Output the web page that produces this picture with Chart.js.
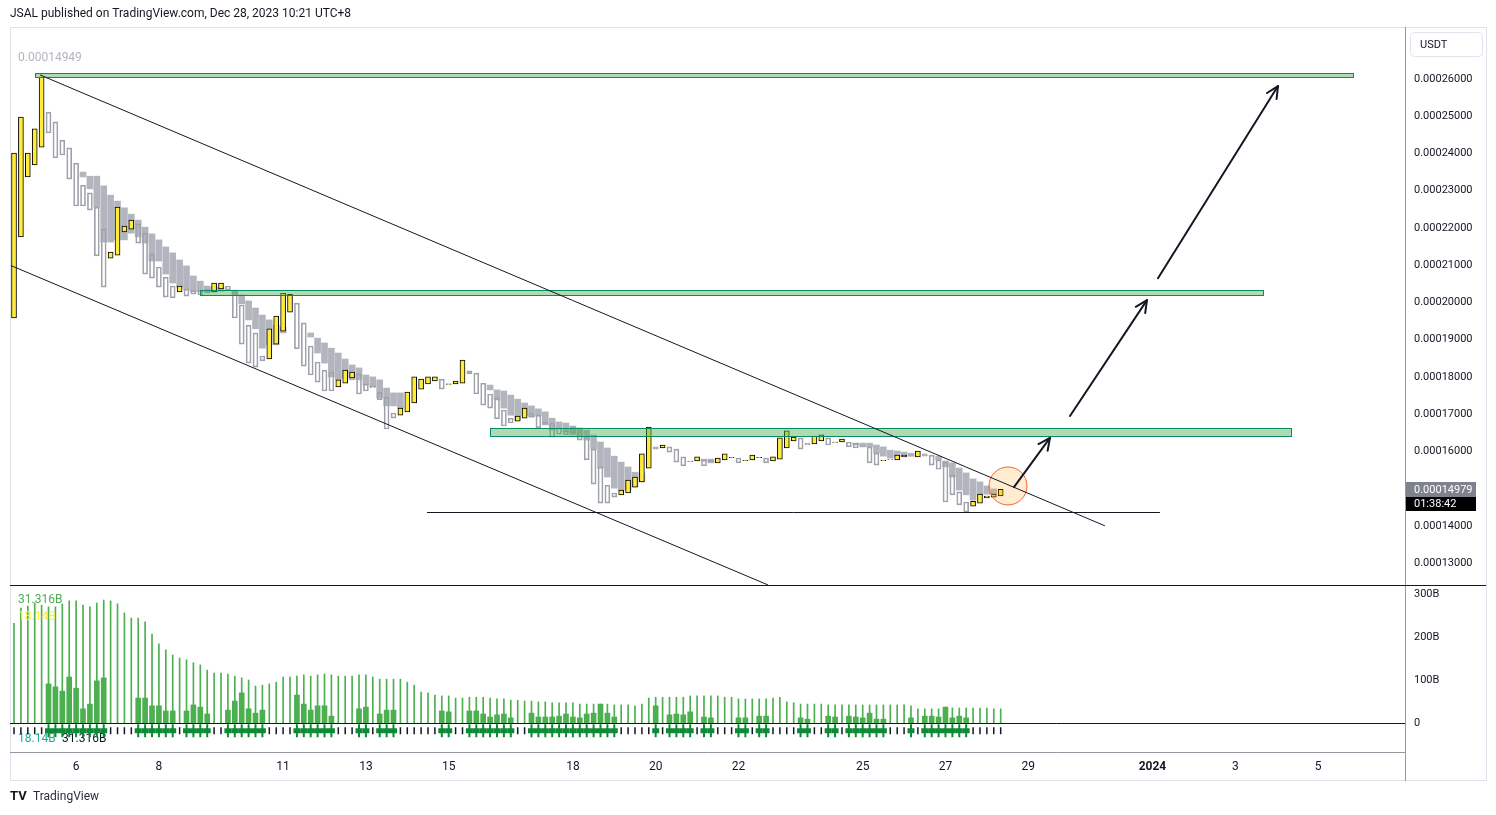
<!DOCTYPE html>
<html>
<head>
<meta charset="utf-8">
<script src="https://cdn.jsdelivr.net/npm/chart.js@4.4.0/dist/chart.umd.min.js"></script>
<style>html,body{margin:0;padding:0;background:#fff;overflow:hidden}canvas{display:block}</style>
</head>
<body>
<canvas id="c" width="1496" height="815"></canvas>
<script>
// ---------- DATA (4h candles, starting Dec 4 12:00) ----------
const N = null;
const START_DAY = 4.5;          // day-of-December of the first candle
const CANDLE_DAYS = 4 / 24;     // 4-hour candles

const candleOpen = [
 19.58e-5,21.76e-5,23.37e-5,23.69e-5,24.17e-5,25.11e-5,24.85e-5,24.36e-5,24.15e-5,23.74e-5,
 23.15e-5,22.94e-5,22.56e-5,21.97e-5,21.19e-5,21.27e-5,21.89e-5,21.97e-5,22.11e-5,21.86e-5,
 21.30e-5,20.95e-5,20.68e-5,20.44e-5,20.28e-5,20.36e-5,20.33e-5,20.33e-5,20.36e-5,20.28e-5,
 20.36e-5,20.44e-5,20.28e-5,19.93e-5,19.39e-5,19.18e-5,18.56e-5,18.48e-5,18.88e-5,19.23e-5,
 19.74e-5,19.98e-5,19.45e-5,18.83e-5,18.40e-5,18.18e-5,18.13e-5,17.73e-5,17.83e-5,17.97e-5,
 18.08e-5,17.81e-5,17.72e-5,17.59e-5,17.46e-5,17.03e-5,16.97e-5,17.06e-5,17.30e-5,17.67e-5,
 17.81e-5,17.89e-5,17.94e-5,17.80e-5,17.81e-5,17.83e-5,18.16e-5,18.10e-5,17.83e-5,17.54e-5,
 17.43e-5,17.11e-5,16.89e-5,16.81e-5,16.89e-5,17.03e-5,16.97e-5,16.79e-5,16.76e-5,16.63e-5,
 16.55e-5,16.65e-5,16.57e-5,16.38e-5,16.06e-5,15.58e-5,15.09e-5,14.88e-5,14.83e-5,14.88e-5,
 15.04e-5,15.18e-5,15.55e-5,16.12e-5,16.09e-5,16.12e-5,16.06e-5,15.85e-5,15.73e-5,15.74e-5,
 15.77e-5,15.77e-5,15.69e-5,15.77e-5,15.83e-5,15.82e-5,15.75e-5,15.77e-5,15.83e-5,15.82e-5,
 15.74e-5,15.79e-5,16.09e-5,16.28e-5,16.36e-5,16.22e-5,16.20e-5,16.28e-5,16.36e-5,16.24e-5,
 16.25e-5,16.25e-5,16.22e-5,16.14e-5,16.12e-5,15.95e-5,15.75e-5,15.78e-5,15.77e-5,15.85e-5,
 15.90e-5,15.85e-5,15.93e-5,15.90e-5,15.77e-5,15.71e-5,15.36e-5,14.91e-5,14.64e-5,14.53e-5,
 14.61e-5,14.75e-5,14.77e-5,14.80e-5];

const candleClose = [
 24.01e-5,24.98e-5,24.01e-5,24.66e-5,26.05e-5,24.55e-5,23.88e-5,23.96e-5,23.31e-5,22.59e-5,
 22.59e-5,22.48e-5,21.25e-5,20.41e-5,21.35e-5,22.56e-5,22.05e-5,22.21e-5,21.59e-5,20.76e-5,
 20.65e-5,20.41e-5,20.14e-5,20.12e-5,20.44e-5,20.17e-5,20.22e-5,20.20e-5,20.25e-5,20.52e-5,
 20.52e-5,20.33e-5,19.58e-5,18.88e-5,18.37e-5,18.26e-5,18.43e-5,19.29e-5,19.63e-5,20.25e-5,
 20.22e-5,18.75e-5,18.29e-5,18.05e-5,17.86e-5,17.62e-5,17.62e-5,17.92e-5,18.18e-5,18.13e-5,
 17.54e-5,17.62e-5,17.73e-5,17.38e-5,16.60e-5,16.89e-5,17.16e-5,17.59e-5,18.00e-5,17.94e-5,
 18.00e-5,18.00e-5,17.67e-5,17.81e-5,17.89e-5,18.45e-5,18.08e-5,17.54e-5,17.24e-5,17.16e-5,
 16.87e-5,16.68e-5,16.76e-5,16.95e-5,17.16e-5,16.92e-5,16.63e-5,16.73e-5,16.38e-5,16.46e-5,
 16.44e-5,16.49e-5,16.30e-5,15.77e-5,15.12e-5,14.61e-5,14.61e-5,14.77e-5,14.96e-5,15.23e-5,
 15.31e-5,15.93e-5,16.65e-5,16.06e-5,16.17e-5,15.98e-5,15.71e-5,15.61e-5,15.74e-5,15.85e-5,
 15.61e-5,15.71e-5,15.82e-5,15.93e-5,15.84e-5,15.69e-5,15.76e-5,15.90e-5,15.84e-5,15.69e-5,
 15.85e-5,16.36e-5,16.55e-5,16.38e-5,16.06e-5,16.17e-5,16.41e-5,16.44e-5,16.17e-5,16.25e-5,
 16.33e-5,16.12e-5,16.09e-5,16.12e-5,15.69e-5,15.63e-5,15.76e-5,15.79e-5,15.90e-5,15.90e-5,
 15.87e-5,16.01e-5,15.87e-5,15.63e-5,15.52e-5,14.64e-5,14.83e-5,14.56e-5,14.37e-5,14.66e-5,
 14.85e-5,14.80e-5,14.85e-5,14.979e-5];

// grey shaded (smoothed) bodies, null where absent
const shadeLow = [
 N,N,N,N,N,N,N,N,N,N,
 23.37e-5,23.05e-5,22.56e-5,21.62e-5,21.62e-5,21.68e-5,21.68e-5,21.86e-5,21.76e-5,21.59e-5,
 21.11e-5,21.11e-5,20.76e-5,20.52e-5,20.41e-5,20.33e-5,20.28e-5,20.28e-5,20.28e-5,20.28e-5,
 20.30e-5,N,20.20e-5,19.96e-5,19.53e-5,19.29e-5,18.77e-5,18.86e-5,18.86e-5,19.18e-5,
 N,N,N,19.07e-5,18.64e-5,18.37e-5,18.00e-5,17.92e-5,17.97e-5,17.92e-5,
 17.92e-5,17.78e-5,17.73e-5,17.43e-5,17.22e-5,17.22e-5,17.16e-5,N,N,N,
 N,N,N,N,N,N,N,N,N,17.65e-5,
 17.38e-5,17.16e-5,16.97e-5,16.84e-5,16.95e-5,16.92e-5,16.95e-5,16.71e-5,16.57e-5,16.63e-5,
 16.52e-5,16.44e-5,16.38e-5,16.30e-5,16.06e-5,15.55e-5,15.31e-5,15.01e-5,14.96e-5,14.96e-5,
 15.04e-5,15.18e-5,N,N,N,N,N,N,N,N,
 15.74e-5,15.69e-5,N,N,N,N,N,N,N,N,
 N,N,N,N,N,N,N,N,N,N,
 N,N,16.17e-5,16.12e-5,16.12e-5,15.95e-5,15.87e-5,15.82e-5,15.85e-5,15.90e-5,
 15.87e-5,N,N,N,15.77e-5,15.58e-5,15.31e-5,14.96e-5,14.83e-5,14.69e-5,
 14.83e-5,14.85e-5,14.85e-5,N];
const shadeHigh = [
 N,N,N,N,N,N,N,N,N,N,
 23.50e-5,23.39e-5,23.39e-5,23.13e-5,22.88e-5,22.72e-5,22.54e-5,22.37e-5,22.21e-5,22.02e-5,
 21.84e-5,21.68e-5,21.49e-5,21.33e-5,21.14e-5,20.98e-5,20.71e-5,20.57e-5,20.44e-5,20.41e-5,
 20.41e-5,N,20.33e-5,20.20e-5,20.04e-5,19.85e-5,19.66e-5,19.53e-5,19.39e-5,19.34e-5,
 N,N,N,19.18e-5,19.04e-5,18.91e-5,18.77e-5,18.64e-5,18.48e-5,18.32e-5,
 18.24e-5,18.05e-5,18.00e-5,17.92e-5,17.70e-5,17.57e-5,17.57e-5,N,N,N,
 N,N,N,N,N,N,N,N,N,17.78e-5,
 17.65e-5,17.62e-5,17.51e-5,17.40e-5,17.30e-5,17.22e-5,17.14e-5,17.06e-5,16.89e-5,16.79e-5,
 16.76e-5,16.68e-5,16.63e-5,16.57e-5,16.44e-5,16.25e-5,16.09e-5,15.87e-5,15.71e-5,15.58e-5,
 15.44e-5,15.42e-5,N,N,N,N,N,N,N,N,
 15.79e-5,15.79e-5,N,N,N,N,N,N,N,N,
 N,N,N,N,N,N,N,N,N,N,
 N,N,16.22e-5,16.22e-5,16.22e-5,16.17e-5,16.12e-5,16.03e-5,16.01e-5,15.98e-5,
 15.95e-5,N,N,N,15.87e-5,15.74e-5,15.69e-5,15.55e-5,15.42e-5,15.26e-5,
 15.18e-5,15.07e-5,14.99e-5,N];

// volume pane, in billions
const volumeTotal = [
 232,267,272,279,274,270,270,277,284,284,
 274,270,279,286,284,277,256,244,244,235,
 207,184,170,158,151,147,140,135,123,116,
 116,114,109,105,100,86,88,91,95,107,
 107,109,112,109,112,114,112,109,109,109,
 112,112,107,102,102,102,102,95,88,72,
 70,65,63,63,58,58,60,60,60,58,
 56,56,53,53,51,51,49,49,47,47,
 47,47,44,44,44,44,44,42,42,42,
 40,44,58,60,60,60,60,60,63,63,
 63,63,63,60,60,56,56,56,56,56,
 58,60,49,47,44,44,44,44,42,42,
 42,42,42,42,42,42,42,42,42,42,
 40,33,33,33,33,37,35,35,35,35,
 35,35,33,33];
const volumeBlock = [
 N,N,N,N,N,91,84,74,107,81,
 33,44,98,105,N,N,N,N,58,58,
 40,40,28,28,N,28,42,37,21,N,
 N,30,51,70,33,23,30,N,N,N,
 N,65,44,30,40,40,16,N,N,N,
 33,37,N,21,30,30,N,N,N,N,
 N,N,28,26,N,N,28,28,21,14,
 19,21,12,N,N,23,14,14,14,16,
 21,14,12,21,23,44,23,14,N,N,
 N,N,N,40,N,19,21,19,26,N,
 14,12,N,N,N,12,12,N,16,16,
 N,N,N,N,12,9,N,N,16,14,
 N,16,14,12,23,9,9,N,N,N,
 12,N,16,16,14,37,12,16,12,N,
 N,N,N,N];
const signalValue = -18;   // level of the marker row under the zero line (B)

// axes
const priceTicks = [13e-5,14e-5,15e-5,16e-5,17e-5,18e-5,19e-5,20e-5,21e-5,22e-5,23e-5,24e-5,25e-5,26e-5];
const volumeTicks = [0,100,200,300];
const timeTickDays = [6,8,11,13,15,18,20,22,25,27,29,32,34,36];
const timeTickLabels = ['6','8','11','13','15','18','20','22','25','27','29','2024','3','5'];

// drawings (day-of-December, price)
const zoneStart = [5.007, 8.993, 15.998];
const zoneEnd   = [36.84, 34.67, 35.345];
const zoneLow   = [26.05e-5, 20.20e-5, 16.41e-5];
const zoneHigh  = [26.16e-5, 20.33e-5, 16.63e-5];
const lineFromDay   = [5.128, 4.403, 14.477];
const lineFromPrice = [26.11e-5, 21.0e-5, 14.37e-5];
const lineToDay     = [30.85, 22.717, 32.18];
const lineToPrice   = [14.0e-5, 12.41e-5, 14.37e-5];
const arrowFromDay   = [28.655, 30.007, 32.133];
const arrowFromPrice = [15.04e-5, 16.95e-5, 20.65e-5];
const arrowToDay     = [29.524, 31.867, 35.032];
const arrowToPrice   = [16.36e-5, 20.06e-5, 25.81e-5];
const circleDay = 28.51, circlePrice = 15.07e-5;
const countdownText = '01:38:42';

// ---------- BUILD ----------
const FONT = 'Roboto, "Liberation Sans", sans-serif';
const candleDay = candleOpen.map((_, i) => START_DAY + i * CANDLE_DAYS);
const upBars = [], downBars = [], shadeBars = [];
candleOpen.forEach((o, i) => {
  const c = candleClose[i];
  const pt = {x: candleDay[i], y: [Math.min(o, c), Math.max(o, c)]};
  (c >= o ? upBars : downBars).push(pt);
  if (shadeLow[i] !== null) shadeBars.push({x: candleDay[i], y: [shadeLow[i], shadeHigh[i]]});
});
const thinVol = volumeTotal.map((v, i) => ({x: candleDay[i], y: v}));
const blockVol = [], marks = [], dots = [];
volumeBlock.forEach((v, i) => {
  if (v !== null) { blockVol.push({x: candleDay[i], y: v}); marks.push({x: candleDay[i], y: signalValue}); }
  else dots.push({x: candleDay[i], y: signalValue});
});

const barBase = {grouped: false, borderSkipped: false, yAxisID: 'y'};

const overlay = {
  id: 'overlay',
  beforeDatasetsDraw(chart) {
    const {ctx} = chart;
    ctx.save();
    ctx.font = '12px ' + FONT;
    ctx.textBaseline = 'middle';
    ctx.fillStyle = '#22ab94'; ctx.fillText('18.14B', 18, 739);
    ctx.fillStyle = '#131722'; ctx.fillText('31.316B', 62, 739);
    ctx.restore();
  },
  afterDatasetsDraw(chart) {
    const {ctx, scales: {x, y}} = chart;
    ctx.save();
    ctx.beginPath(); ctx.rect(x.left, y.top, x.right - x.left, y.bottom - y.top); ctx.clip();
    // zones
    for (let k = 0; k < zoneStart.length; k++) {
      const x1 = Math.round(x.getPixelForValue(zoneStart[k])), x2 = Math.round(x.getPixelForValue(zoneEnd[k]));
      const y1 = Math.round(y.getPixelForValue(zoneHigh[k])), y2 = Math.round(y.getPixelForValue(zoneLow[k]));
      ctx.fillStyle = 'rgba(76,175,80,0.45)';
      ctx.fillRect(x1, y1, x2 - x1, y2 - y1);
      ctx.strokeStyle = '#0b8a6a'; ctx.lineWidth = 1;
      ctx.strokeRect(x1 + 0.5, y1 + 0.5, x2 - x1, y2 - y1);
    }
    // circle
    const cx = x.getPixelForValue(circleDay), cy = y.getPixelForValue(circlePrice);
    ctx.beginPath(); ctx.arc(cx, cy, 19, 0, Math.PI * 2);
    ctx.fillStyle = 'rgba(255,152,0,0.18)'; ctx.fill();
    ctx.strokeStyle = '#f2622e'; ctx.lineWidth = 1; ctx.stroke();
    // lines
    ctx.strokeStyle = '#131722'; ctx.lineWidth = 1;
    for (let k = 0; k < lineFromDay.length; k++) {
      let y1 = y.getPixelForValue(lineFromPrice[k]), y2 = y.getPixelForValue(lineToPrice[k]);
      if (lineFromPrice[k] === lineToPrice[k]) { y1 = y2 = Math.round(y1) + 0.5; }
      ctx.beginPath();
      ctx.moveTo(x.getPixelForValue(lineFromDay[k]), y1);
      ctx.lineTo(x.getPixelForValue(lineToDay[k]), y2);
      ctx.stroke();
    }
    // arrows
    ctx.lineWidth = 2; ctx.lineCap = 'round'; ctx.lineJoin = 'round';
    for (let k = 0; k < arrowFromDay.length; k++) {
      const ax = x.getPixelForValue(arrowFromDay[k]), ay = y.getPixelForValue(arrowFromPrice[k]);
      const bx = x.getPixelForValue(arrowToDay[k]), by = y.getPixelForValue(arrowToPrice[k]);
      const ang = Math.atan2(by - ay, bx - ax), L = 13, spread = 0.45;
      ctx.beginPath(); ctx.moveTo(ax, ay); ctx.lineTo(bx, by); ctx.stroke();
      ctx.beginPath();
      ctx.moveTo(bx - L * Math.cos(ang - spread), by - L * Math.sin(ang - spread));
      ctx.lineTo(bx, by);
      ctx.lineTo(bx - L * Math.cos(ang + spread), by - L * Math.sin(ang + spread));
      ctx.stroke();
    }
    ctx.restore();
  },
  afterDraw(chart) {
    const {ctx, scales: {x, y, yv}} = chart;
    ctx.save();
    // frame & separators
    ctx.lineWidth = 1;
    ctx.strokeStyle = '#e0e3eb';
    ctx.strokeRect(10.5, 27.5, 1476, 753);
    ctx.strokeStyle = '#9598a1';
    ctx.beginPath(); ctx.moveTo(1405.5, 27); ctx.lineTo(1405.5, 781); ctx.stroke();
    ctx.beginPath(); ctx.moveTo(10, 752.5); ctx.lineTo(1405, 752.5); ctx.stroke();
    ctx.strokeStyle = '#131722';
    ctx.beginPath(); ctx.moveTo(10, Math.round(y.bottom) + 0.5); ctx.lineTo(1486, Math.round(y.bottom) + 0.5); ctx.stroke();
    const z = Math.round(yv.getPixelForValue(0)) + 0.5;
    ctx.beginPath(); ctx.moveTo(10, z); ctx.lineTo(1405, z); ctx.stroke();
    // header
    ctx.textBaseline = 'middle';
    ctx.fillStyle = '#131722';
    ctx.font = '12px ' + FONT;
    ctx.fillText('JSAL published on TradingView.com, Dec 28, 2023 10:21 UTC+8', 10, 14);
    // logo
    ctx.font = 'bold 13px ' + FONT;
    ctx.fillText('TV', 10, 797);
    ctx.font = '12px ' + FONT;
    ctx.fillStyle = '#2a2e39';
    ctx.fillText('TradingView', 33, 797);
    // pane labels
    ctx.fillStyle = '#b2b5be';
    ctx.fillText('0.00014949', 18, 58);
    ctx.fillStyle = '#4caf50';
    ctx.fillText('31.316B', 18, 600);
    ctx.fillStyle = '#ffeb3b';
    ctx.fillText('18.14B', 18, 617);
    // USDT box
    ctx.strokeStyle = '#e0e3eb';
    ctx.beginPath(); ctx.roundRect(1410.5, 32.5, 72, 24, 4); ctx.stroke();
    ctx.fillStyle = '#131722'; ctx.font = '11px ' + FONT;
    ctx.fillText('USDT', 1420, 45);
    // last price label
    const last = candleClose[candleClose.length - 1];
    const py = Math.round(y.getPixelForValue(last));
    ctx.fillStyle = '#7e828c'; ctx.fillRect(1406, py - 7, 70, 15);
    ctx.fillStyle = '#000000'; ctx.fillRect(1406, py + 8, 70, 14);
    ctx.fillStyle = '#ffffff'; ctx.font = '11px ' + FONT;
    ctx.fillText(last.toFixed(8), 1414, py + 1);
    ctx.fillText(countdownText, 1414, py + 15);
    ctx.restore();
  }
};

new Chart(document.getElementById('c'), {
  type: 'bar',
  data: {
    datasets: [
      {...barBase, label: 'shade', data: shadeBars, backgroundColor: '#b2b5be', barThickness: 6, order: 9},
      {...barBase, label: 'down', data: downBars, backgroundColor: 'rgba(0,0,0,0)', borderColor: '#9fa2ab', borderWidth: 1, barThickness: 5, order: 8},
      {...barBase, label: 'up', data: upBars, backgroundColor: '#ffeb3b', borderColor: '#000000', borderWidth: 1, barThickness: 5, order: 7},
      {grouped: false, borderSkipped: false, yAxisID: 'yv', label: 'vol', data: thinVol, backgroundColor: '#4caf50', barThickness: 1, order: 9},
      {grouped: false, borderSkipped: false, yAxisID: 'yv', label: 'block', data: blockVol, backgroundColor: '#4caf50', barThickness: 5, order: 8},
      {type: 'scatter', yAxisID: 'yv', label: 'markH', data: marks, pointStyle: 'line', pointRadius: 3.5, pointBorderWidth: 5, pointBorderColor: '#0c8a35', pointHoverRadius: 0, order: 2},
      {type: 'scatter', yAxisID: 'yv', label: 'markV', data: marks, pointStyle: 'line', rotation: 90, pointRadius: 6.5, pointBorderWidth: 2, pointBorderColor: '#0c8a35', pointHoverRadius: 0, order: 2},
      {type: 'scatter', yAxisID: 'yv', label: 'dots', data: dots, pointStyle: 'line', rotation: 90, pointRadius: 3.5, pointBorderWidth: 1.5, pointBorderColor: '#131722', pointHoverRadius: 0, order: 2}
    ]
  },
  options: {
    responsive: false,
    animation: false,
    devicePixelRatio: 1,
    layout: {padding: {left: 10, top: 28, right: 10, bottom: 35}},
    plugins: {legend: {display: false}, tooltip: {enabled: false}},
    events: [],
    scales: {
      x: {
        type: 'linear', min: 4.403, max: 38.1, offset: false,
        grid: {display: false, drawTicks: false, offset: false}, border: {display: false},
        afterBuildTicks: s => { s.ticks = timeTickDays.map(v => ({value: v})); },
        afterFit: s => { s.height = 28; },
        ticks: {
          autoSkip: false, maxRotation: 0, padding: 8, color: '#131722',
          font: c => ({family: FONT, size: 12, weight: timeTickLabels[c.index] === '2024' ? 'bold' : 'normal'}),
          callback: (v, i) => timeTickLabels[i]
        }
      },
      y: {
        type: 'linear', position: 'right', stack: 'panes', stackWeight: 557,
        min: 12.41e-5, max: 27.37e-5,
        grid: {display: false, drawTicks: false}, border: {display: false},
        afterBuildTicks: s => { s.ticks = priceTicks.map(v => ({value: v})); },
        afterFit: s => { s.width = 81; },
        ticks: {autoSkip: false, padding: 9, color: '#131722', font: {family: FONT, size: 11}, callback: v => v.toFixed(8)}
      },
      yv: {
        type: 'linear', position: 'right', stack: 'panes', stackWeight: 167,
        min: -67.4, max: 320.9,
        grid: {display: false, drawTicks: false}, border: {display: false},
        afterBuildTicks: s => { s.ticks = volumeTicks.map(v => ({value: v})); },
        afterFit: s => { s.width = 81; },
        ticks: {autoSkip: false, padding: 9, color: '#131722', font: {family: FONT, size: 11}, callback: v => v === 0 ? '0' : v + 'B'}
      }
    }
  },
  plugins: [overlay]
});
</script>
</body>
</html>
